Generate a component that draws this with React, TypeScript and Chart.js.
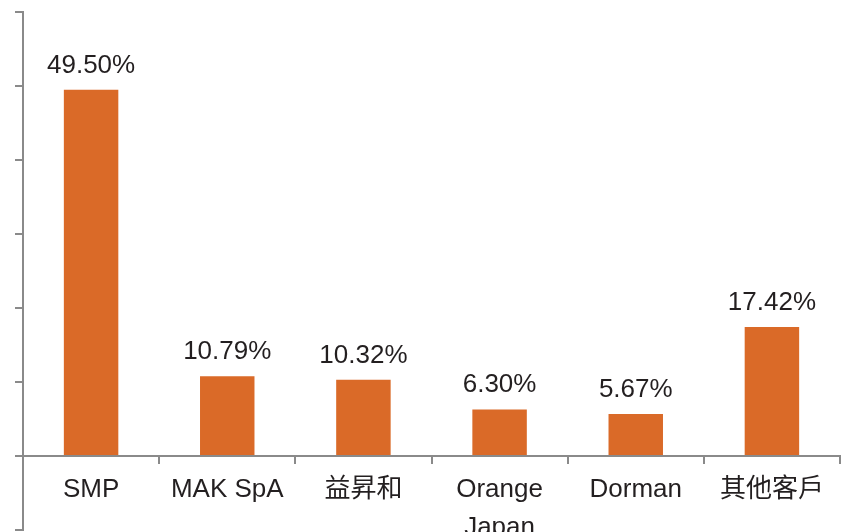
import React, { useEffect, useRef } from "react";
import { Chart, registerables } from "chart.js";

Chart.register(...registerables);

const categories: (string | string[])[] = ["SMP", "MAK SpA", "益昇和", ["Orange", "Japan"], "Dorman", "其他客戶"];
const shares = [49.5, 10.79, 10.32, 6.3, 5.67, 17.42];
const shareLabels = ["49.50%", "10.79%", "10.32%", "6.30%", "5.67%", "17.42%"];
const yMin = -10;
const yMax = 60;
const yStep = 10;

const FONT = "'Liberation Sans', Arial, Helvetica, 'Noto Sans CJK TC', sans-serif";
const AXIS_COLOR = "#8a8a8a";
const BAR_COLOR = "#DA6A28";
const TEXT_COLOR = "#231f20";

const valueLabelPlugin = {
  id: "valueLabels",
  afterDatasetsDraw(chart: any) {
    const ctx = chart.ctx;
    const meta = chart.getDatasetMeta(0);
    ctx.save();
    ctx.font = `26px ${FONT}`;
    ctx.fillStyle = TEXT_COLOR;
    ctx.textAlign = "center";
    ctx.textBaseline = "alphabetic";
    meta.data.forEach((bar: any, i: number) => {
      ctx.fillText(shareLabels[i], bar.x, bar.y - 17);
    });
    ctx.restore();
  },
};

export default function App() {
  const canvasRef = useRef<HTMLCanvasElement | null>(null);

  useEffect(() => {
    if (!canvasRef.current) return;
    const chart = new Chart(canvasRef.current, {
      type: "bar",
      data: {
        labels: categories,
        datasets: [
          {
            data: shares,
            backgroundColor: BAR_COLOR,
            borderWidth: 0,
            barPercentage: 0.4,
            categoryPercentage: 1.0,
          },
        ],
      },
      options: {
        responsive: false,
        animation: false,
        maintainAspectRatio: false,
        layout: { padding: { left: 15, top: 12, right: 1, bottom: 2 } },
        plugins: {
          legend: { display: false },
          tooltip: { enabled: false },
          title: { display: false },
        },
        scales: {
          y: {
            min: yMin,
            max: yMax,
            ticks: { stepSize: yStep, display: false },
            grid: {
              drawOnChartArea: false,
              drawTicks: true,
              tickLength: 8,
              color: AXIS_COLOR,
              lineWidth: 2,
            },
            border: { display: true, color: AXIS_COLOR, width: 2 },
          },
          x: {
            position: { y: 0 } as any,
            ticks: {
              autoSkip: false,
              maxRotation: 0,
              minRotation: 0,
              padding: 8,
              color: TEXT_COLOR,
              font: { family: FONT, size: 26, lineHeight: 1.46 },
            },
            grid: {
              offset: true,
              drawOnChartArea: false,
              drawTicks: true,
              tickLength: 7,
              color: AXIS_COLOR,
              lineWidth: 2,
            },
            border: { display: true, color: AXIS_COLOR, width: 2 },
          },
        },
      },
      plugins: [valueLabelPlugin],
    });
    return () => chart.destroy();
  }, []);

  return (
    <div style={{ position: "absolute", left: 0, top: 0, width: 841, height: 532, background: "#ffffff" }}>
      <canvas ref={canvasRef} width={841} height={532} style={{ display: "block", width: 841, height: 532 }} />
    </div>
  );
}
